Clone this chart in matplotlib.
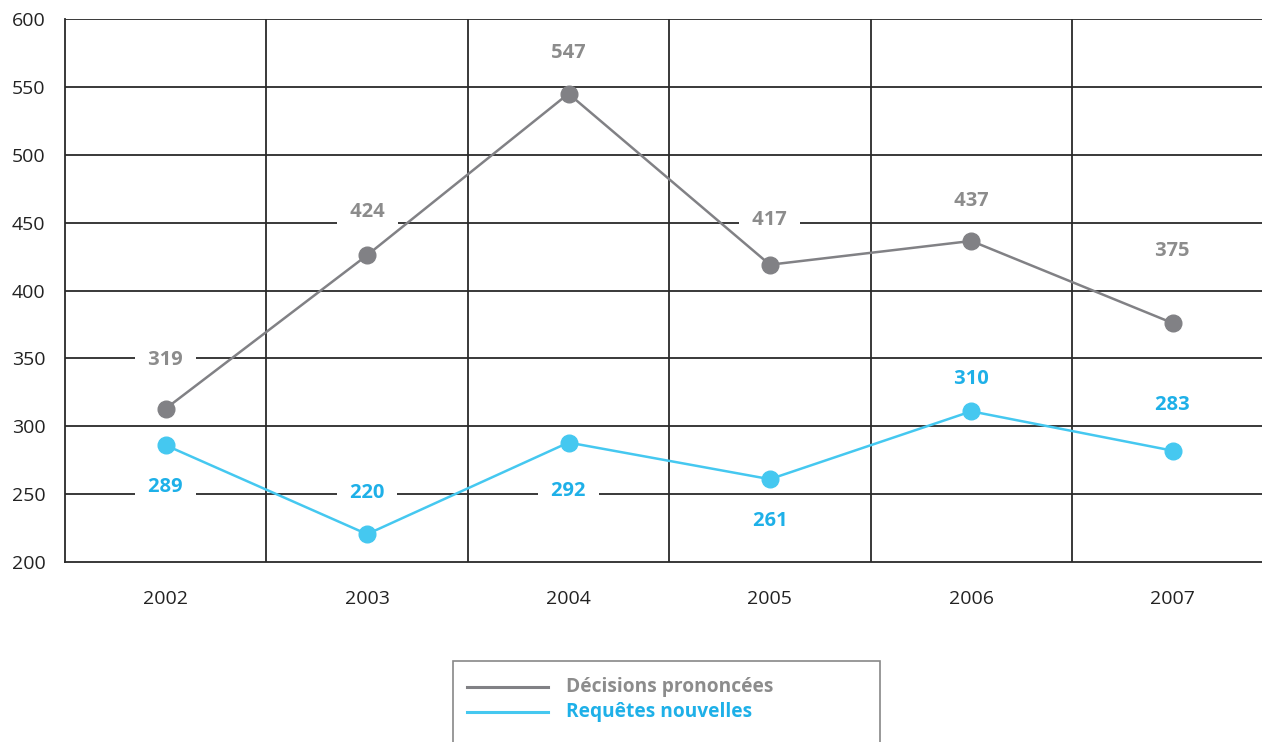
import matplotlib
matplotlib.use("Agg")
import matplotlib.pyplot as plt
from matplotlib.patches import Rectangle
from matplotlib.lines import Line2D

plt.rcParams['font.family'] = ['Open Sans', 'DejaVu Sans']

years = ['2002', '2003', '2004', '2005', '2006', '2007']
decisions_points = [313, 426, 545, 419, 436.5, 376]
decisions_labels = ['319', '424', '547', '417', '437', '375']
requetes_points = [286, 220.5, 288, 261, 311, 282]
requetes_labels = ['289', '220', '292', '261', '310', '283']
yticks = [200, 250, 300, 350, 400, 450, 500, 550, 600]
series_names = ['Décisions prononcées', 'Requêtes nouvelles']

# label offsets in points (vertical), style only
dec_off = [35, 31, 29, 32, 29, 52]
req_off = [-30, 30, -35, -30, 23, 33]

GRAY = '#818185'
GRAY_T = '#8c8c8c'
BLUE = '#45c8f0'
BLUE_T = '#1eb0e8'
GRID = '#2a2a2a'

fig = plt.figure(figsize=(12.62, 7.42), dpi=100)
ax = fig.add_axes([65/1262, 180/742, 1 - 65/1262, (562-19)/742])

x = list(range(len(years)))
ax.set_xlim(-0.5, -0.5 + (1262-65)/201.4)
ax.set_ylim(200, 600)

for y in yticks[1:]:
    ax.axhline(y, color=GRID, lw=1.3, zorder=1)
for b in [0.5, 1.5, 2.5, 3.5, 4.5]:
    ax.axvline(b, color=GRID, lw=1.3, zorder=1)

for s in ['top', 'right']:
    ax.spines[s].set_visible(False)
for s in ['left', 'bottom']:
    ax.spines[s].set_color(GRID)
    ax.spines[s].set_linewidth(1.3)

ax.plot(x, decisions_points, color=GRAY, lw=1.8, marker='o', ms=12, zorder=5, clip_on=False)
ax.plot(x, requetes_points, color=BLUE, lw=1.8, marker='o', ms=12, zorder=5, clip_on=False)

SP = '\u2002'
def put(xs, ys, labs, offs, col):
    for xi, yv, lab, off in zip(xs, ys, labs, offs):
        ax.annotate(SP + lab + SP, (xi, yv), xytext=(0, off), textcoords='offset points',
                    ha='center', va='center', fontsize=14.5, fontweight='bold', color=col,
                    bbox=dict(boxstyle='square,pad=0.15', fc='white', ec='none'), zorder=3)

put(x, decisions_points, decisions_labels, dec_off, GRAY_T)
put(x, requetes_points, requetes_labels, req_off, BLUE_T)

ax.set_xticks(x)
ax.set_xticklabels(years, fontsize=14, color='#222222')
ax.set_yticks(yticks)
ax.set_yticklabels([str(v) for v in yticks], fontsize=14, color='#222222')
ax.tick_params(length=0)
ax.tick_params(axis='x', pad=20)
ax.tick_params(axis='y', pad=14)

# legend box
W, H = 1262, 742
fig.patches.append(Rectangle((453/W, -0.05), (880-453)/W, (742-661)/H + 0.05,
                             transform=fig.transFigure, fc='white', ec='#888888', lw=1.2))
for yy, col, name in [(687, GRAY, series_names[0]), (712, BLUE, series_names[1])]:
    fy = 1 - yy/H
    fig.lines.append(Line2D([467/W, 548/W], [fy, fy], transform=fig.transFigure, color=col, lw=2.2))
    fig.text(566/W, fy, name, ha='left', va='center', fontsize=13.8, fontweight='bold',
             color=GRAY_T if col == GRAY else BLUE_T)

fig.savefig('out.png', dpi=100)
